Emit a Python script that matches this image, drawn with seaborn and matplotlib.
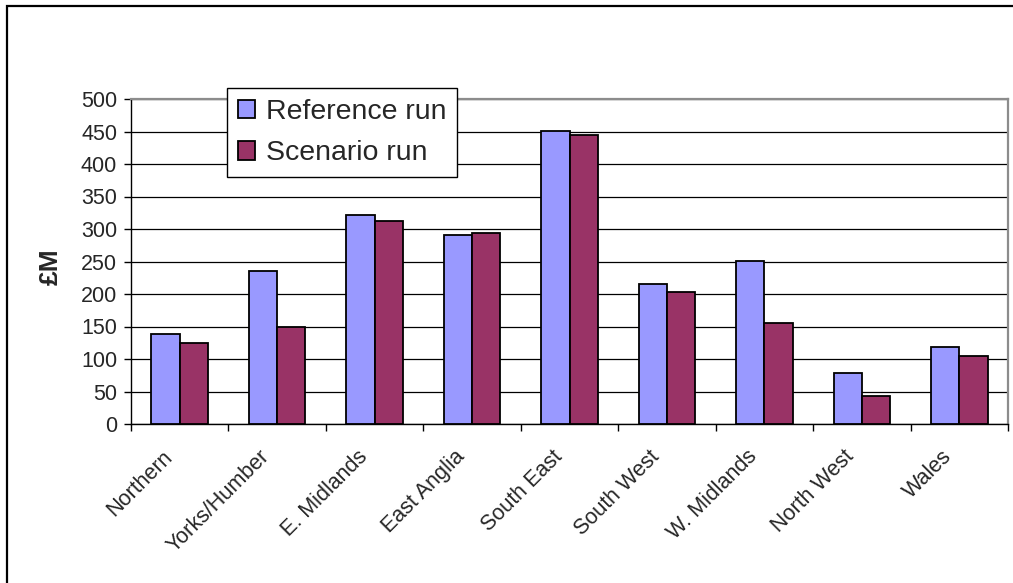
import pandas as pd
import numpy as np
import matplotlib
matplotlib.use('Agg')
import matplotlib.pyplot as plt
import matplotlib.transforms as mtransforms
import seaborn as sns
from matplotlib.patches import Rectangle

# Data (£M)
regions = ['Northern', 'Yorks/Humber', 'E. Midlands', 'East Anglia', 'South East',
           'South West', 'W. Midlands', 'North West', 'Wales']
reference_run = [138, 236, 322, 291, 451, 215, 251, 79, 119]
scenario_run = [125, 150, 313, 294, 445, 203, 156, 43, 104]
series_names = ['Reference run', 'Scenario run']
y_ticks = [0, 50, 100, 150, 200, 250, 300, 350, 400, 450, 500]

df = pd.DataFrame({
    'region': regions * 2,
    'value': reference_run + scenario_run,
    'run': [series_names[0]] * len(regions) + [series_names[1]] * len(regions),
})

sns.set_style('white')
plt.rcParams['font.family'] = ['Liberation Sans', 'DejaVu Sans']

fig = plt.figure(figsize=(10.13, 5.83), dpi=100)
ax = fig.add_axes([131 / 1013, 1 - 424 / 583, 877 / 1013, 325 / 583])

sns.barplot(data=df, x='region', y='value', hue='run', order=regions,
            hue_order=series_names, palette=['#9999FF', '#993366'],
            width=0.58, gap=0, edgecolor='black', linewidth=1.3,
            saturation=1, ax=ax, zorder=3)

# Axes styling
ax.set_ylim(0, 500)
ax.set_xlim(-0.5, len(regions) - 0.5)
ax.set_yticks(y_ticks)
ax.yaxis.grid(True, color='black', linewidth=0.9, zorder=0)
ax.set_axisbelow(True)
for side in ['top', 'right']:
    ax.spines[side].set_color('#8c8c8c')
    ax.spines[side].set_linewidth(1.6)
for side in ['left', 'bottom']:
    ax.spines[side].set_color('black')
    ax.spines[side].set_linewidth(1.0)

ax.tick_params(axis='y', which='major', direction='out', length=5, width=1,
               color='black', left=True, labelsize=15.5, pad=5)
ax.set_xticks(range(len(regions)))
ax.set_xticklabels(regions, rotation=45, ha='right', rotation_mode='anchor',
                   fontsize=15.5)
ax.tick_params(axis='x', which='major', length=0, pad=16)
shift = mtransforms.ScaledTranslation(-18 / 100, 0, fig.dpi_scale_trans)
for lbl in ax.get_xticklabels():
    lbl.set_transform(lbl.get_transform() + shift)
ax.set_xticks(np.arange(-0.5, len(regions)), minor=True)
ax.tick_params(axis='x', which='minor', direction='out', length=5, width=1,
               color='black', bottom=True)

ax.set_xlabel('')
ax.set_ylabel('')
fig.text(51 / 1013, 1 - 267 / 583, '£M', rotation=90, ha='center', va='center',
         fontsize=19, fontweight='bold')

# Legend
leg = ax.legend(loc='upper left', bbox_to_anchor=((227 - 131) / 877, (424 - 88) / 325),
                borderaxespad=0, fontsize=20.5, frameon=True, fancybox=False,
                handlelength=0.62, handleheight=0.62, handletextpad=0.36,
                labelspacing=0.55, borderpad=0.38)
leg.get_frame().set_edgecolor('black')
leg.get_frame().set_linewidth(1.0)
leg.get_frame().set_facecolor('white')
leg.get_frame().set_alpha(1)
for h in leg.legend_handles:
    h.set_edgecolor('black')
    h.set_linewidth(1.3)

# Outer chart border
fig.patches.append(Rectangle((7 / 1013, -0.1), 1.2, 1 - 6 / 583 + 0.1,
                             transform=fig.transFigure, fill=False,
                             edgecolor='black', linewidth=1.6))

fig.savefig('out.png', dpi=100)
